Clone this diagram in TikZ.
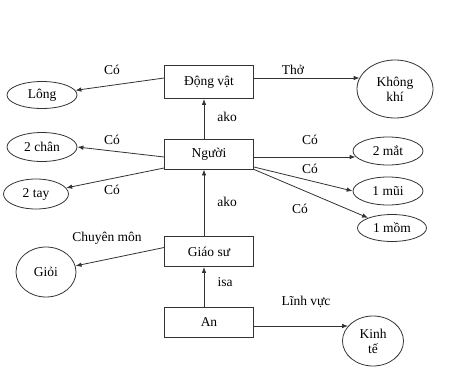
\documentclass[tikz,border=0pt]{standalone}
\usepackage{fontspec}
\setmainfont{Liberation Serif}
\usetikzlibrary{shapes.geometric,arrows.meta,positioning,calc}
\definecolor{cline}{HTML}{333333}

\begin{document}
\begin{tikzpicture}[x=1pt, y=-1pt,
      box/.style={draw=cline, line width=0.8pt, minimum height=30pt, minimum width=89pt, align=center, font=\fontsize{13.5}{15}\selectfont},
      oval/.style={draw=cline, line width=0.8pt, ellipse, inner sep=0pt, align=center, font=\fontsize{13.5}{15}\selectfont},
      lbl/.style={font=\fontsize{13.5}{15}\selectfont},
      arr/.style={-{Latex[length=6pt,width=4.5pt]}, line width=0.8pt, cline}
    ]
    \useasboundingbox (0,0) rectangle (466,378);

    \node[box, minimum height=33pt] (dv) at (209,82) {Động vật};
    \node[box] (ng) at (209,154) {Người};
    \node[box] (gs) at (209,251.5) {Giáo sư};
    \node[box] (an) at (209,322) {An};

    \node[oval, minimum width=70pt, minimum height=27pt] (long) at (42,95) {Lông};
    \node[oval, minimum width=70pt, minimum height=29pt] (chan) at (42,147) {2 chân};
    \node[oval, minimum width=65pt, minimum height=30pt] (tay) at (36,194) {2 tay};
    \node[oval, minimum width=60pt, minimum height=50pt] (gioi) at (46,272) {Giỏi};
    \node[oval, minimum width=76pt, minimum height=58pt] (kk) at (395,89) {Không\\khí};
    \node[oval, minimum width=70pt, minimum height=28pt] (mat) at (388,151) {2 mắt};
    \node[oval, minimum width=70pt, minimum height=28pt] (mui) at (388,191) {1 mũi};
    \node[oval, minimum width=69pt, minimum height=27pt] (mom) at (392,228) {1 mồm};
    \node[oval, minimum width=61pt, minimum height=50pt] (kt) at (373,341) {Kinh\\tế};

    \draw[arr] ([yshift=4pt]dv.west) -- (long);
    \draw[arr] ([yshift=4pt]dv.east) -- ([xshift=3pt,yshift=11pt]kk.west);
    \draw[arr] ([xshift=-5pt]ng.north) -- ([xshift=-5pt]dv.south);
    \draw[arr] ([yshift=-3pt]ng.west) -- (chan.east);
    \draw[arr] ([yshift=-14pt]ng.west) -- (tay);
    \draw[arr] ([yshift=-3pt]ng.east) -- ([xshift=3pt,yshift=-6pt]mat.west);
    \draw[arr] ([yshift=-13pt]ng.east) -- (mui.west);
    \draw[arr] (ng.south east) -- (mom);
    \draw[arr] ([xshift=-5pt]gs.north) -- ([xshift=-5pt]ng.south);
    \draw[arr] ([yshift=4pt]gs.west) -- (gioi);
    \draw[arr] ([xshift=-5pt]an.north) -- ([xshift=-5pt]gs.south);
    \draw[arr] ([yshift=-4pt]an.east) -- ([xshift=6pt,yshift=15pt]kt.west);

    \node[lbl] (l1) at (112,70) {Có};
    \node[lbl] (l2) at (293,70) {Thở};
    \node[lbl] (l3) at (227,117) {ako};
    \node[lbl] (l4) at (112,140) {Có};
    \node[lbl] (l5) at (112,190) {Có};
    \node[lbl] (l6) at (310,140) {Có};
    \node[lbl] (l7) at (310,169) {Có};
    \node[lbl] (l8) at (300,209) {Có};
    \node[lbl] (l9) at (227,202) {ako};
    \node[lbl] (l10) at (107,238) {Chuyên môn};
    \node[lbl] (l11) at (225,282) {isa};
    \node[lbl] (l12) at (306,302) {Lĩnh vực};
  \end{tikzpicture}
\end{document}
